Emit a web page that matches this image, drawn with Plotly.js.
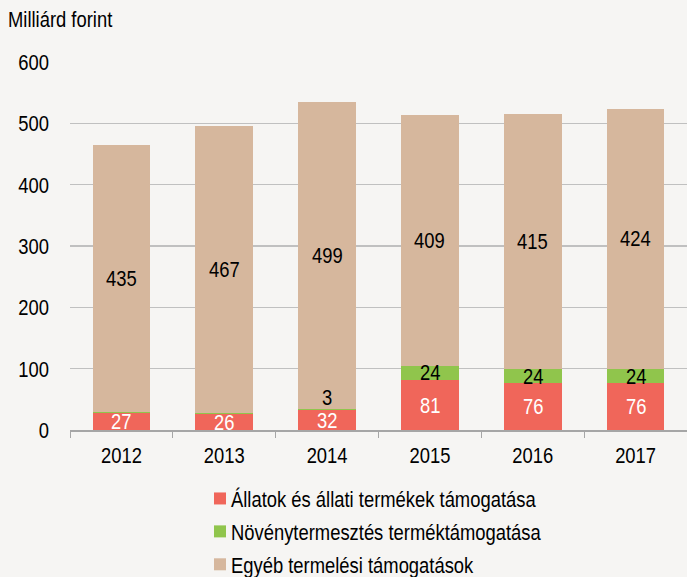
<!DOCTYPE html>
<html><head><meta charset="utf-8">
<script src="https://cdn.plot.ly/plotly-3.0.1.min.js"></script>
<style>html,body{margin:0;padding:0;background:#f6f5f3;}</style>
</head><body><div id="chart" style="width:687px;height:577px;"></div>
<script>
const years = ['2012','2013','2014','2015','2016','2017'];
const allatok = [27, 26, 32, 81, 76, 76];
const noveny = [2, 2, 3, 24, 24, 24];
const egyeb = [435, 467, 499, 409, 415, 424];
const names = ['Állatok és állati termékek támogatása','Növénytermesztés terméktámogatása','Egyéb termelési támogatások'];
const colors = ['#f0665a','#90c54c','#d6b79d'];
const font = 'Liberation Sans, Arial, sans-serif';
const fs = 18.4;

const traces = [
  {type:'bar', x:years, y:allatok, name:names[0], marker:{color:colors[0]}, legendgroup:'a', hoverinfo:'y'},
  {type:'bar', x:years, y:noveny, name:names[1], marker:{color:colors[1]}, legendgroup:'b', hoverinfo:'y'},
  {type:'bar', x:years, y:egyeb, name:names[2], marker:{color:colors[2]}, legendgroup:'c', hoverinfo:'y'}
];

const ann = [];
years.forEach((yr,i)=>{
  ann.push({x:i, y:allatok[i]/2, text:String(allatok[i]), showarrow:false, font:{family:font,size:fs,color:'#ffffff'}, yanchor:'middle'});
  if (noveny[i] >= 10) {
    ann.push({x:i, y:allatok[i]+noveny[i]/2, text:String(noveny[i]), showarrow:false, font:{family:font,size:fs,color:'#000'}, yanchor:'middle'});
  } else if (noveny[i] >= 3) {
    ann.push({x:i, y:allatok[i]+noveny[i], text:String(noveny[i]), showarrow:false, font:{family:font,size:fs,color:'#000'}, yanchor:'bottom', yshift:-1});
  }
  ann.push({x:i, y:allatok[i]+noveny[i]+egyeb[i]/2, text:String(egyeb[i]), showarrow:false, font:{family:font,size:fs,color:'#000'}, yanchor:'middle'});
});
ann.push({xref:'paper', yref:'paper', x:-0.103, y:1.0816, xanchor:'left', yanchor:'middle', text:'Milliárd forint', showarrow:false, font:{family:font,size:fs,color:'#000'}});

const layout = {
  width:687, height:577,
  paper_bgcolor:'#f6f5f3', plot_bgcolor:'#f6f5f3',
  margin:{l:70, r:0, t:62, b:0},
  barmode:'stack', bargap:0.44,
  showlegend:true,
  font:{family:font, size:fs, color:'#000'},
  xaxis:{type:'category', range:[-0.5,5.5], automargin:false, showline:true, linecolor:'#a6a6a6', linewidth:1.5, ticks:'outside', tickson:'boundaries', ticklen:6, tickcolor:'#a6a6a6', ticklabelstandoff:8, tickfont:{family:font,size:fs,color:'#000'}, showgrid:false, fixedrange:true},
  yaxis:{domain:[0.2854,1], range:[0,600], dtick:100, automargin:false, showgrid:true, gridcolor:'#c0c0c0', gridwidth:1.3, zeroline:false, showline:false, ticks:'', ticklabelstandoff:20, tickfont:{family:font,size:fs,color:'#000'}, fixedrange:true},
  legend:{x:0.2107, y:0.26, xanchor:'left', yanchor:'top', traceorder:'grouped', tracegroupgap:6, font:{family:font,size:fs,color:'#000'}, bgcolor:'rgba(0,0,0,0)', itemwidth:30},
  annotations:ann
};
Plotly.newPlot('chart', traces, layout, {displayModeBar:false, staticPlot:true}).then(function(){
  // Move the legend to its place below the axis without letting it shrink the plot area.
  var lg = document.querySelector('#chart g.legend');
  if (lg) {
    var tr = lg.getAttribute('transform') || '';
    var m = tr.match(/translate\(\s*([-\d.e]+)[ ,]+([-\d.e]+)\s*\)/);
    if (m) lg.setAttribute('transform', 'translate(' + m[1] + ',480)');
  }
  // Reference text is a narrow face (tall glyphs): stretch text vertically about its own centre.
  document.querySelectorAll('#chart svg text').forEach(function(t){
    if (t.classList.contains('legendtext')) {
      t.setAttribute('x', String(parseFloat(t.getAttribute('x')||'0') - 9));
    }
    var b = t.getBBox();
    var cy = b.y + b.height/2;
    var tr2 = t.getAttribute('transform') || '';
    t.setAttribute('transform', tr2 + ' translate(0,' + cy + ') scale(1,1.22) translate(0,' + (-cy) + ')');
  });
});
</script></body></html>
